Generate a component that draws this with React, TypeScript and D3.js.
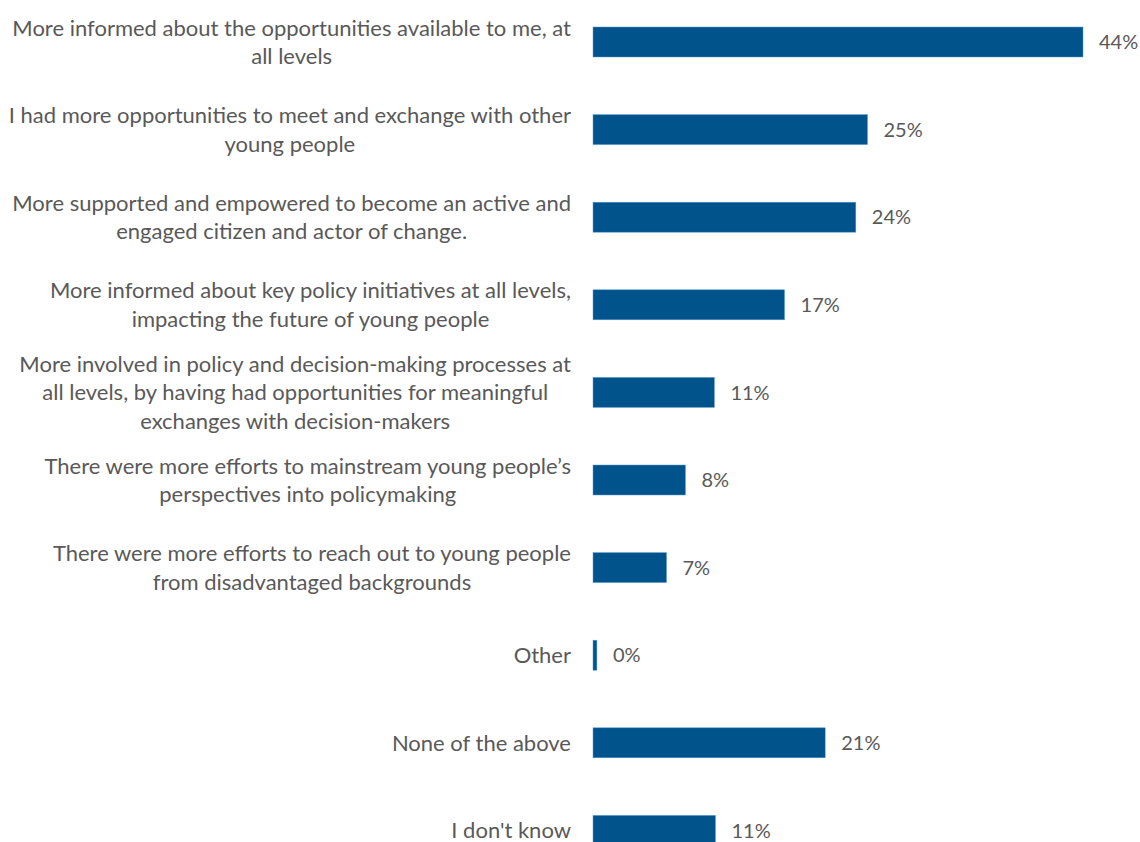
import React, { useEffect, useRef } from "react";
import * as d3 from "d3";

const categories: string[][] = [
  ["More informed about the opportunities available to me, at", "all levels"],
  ["I had more opportunities to meet and exchange with other", "young people"],
  ["More supported and empowered to become an active and", "engaged citizen and actor of change."],
  ["More informed about key policy initiatives at all levels,", "impacting the future of young people"],
  ["More involved in policy and decision-making processes at", "all levels, by having had opportunities for meaningful", "exchanges with decision-makers"],
  ["There were more efforts to mainstream young people\u2019s", "perspectives into policymaking"],
  ["There were more efforts to reach out to young people", "from disadvantaged backgrounds"],
  ["Other"],
  ["None of the above"],
  ["I don't know"],
];
const values: number[] = [44, 24.65, 23.6, 17.2, 10.9, 8.3, 6.6, 0.35, 20.85, 11.0];
const valueLabels: string[] = ["44%", "25%", "24%", "17%", "11%", "8%", "7%", "0%", "21%", "11%"];

const W = 1140;
const H = 842;
const FONT = "Lato, 'Open Sans', sans-serif";
const FS = 20;
const CAT_FS = 22;

export default function App() {
  const ref = useRef<SVGSVGElement | null>(null);
  useEffect(() => {
    const svg = d3.select(ref.current);
    svg.selectAll("*").remove();
    const step = 87.6;
    const ids = categories.map((_, i) => String(i));
    const y = d3
      .scaleBand<string>()
      .domain(ids)
      .range([42 - step / 2, 42 - step / 2 + step * ids.length])
      .paddingInner(1 - 30 / step)
      .paddingOuter((1 - 30 / step) / 2);
    const x = d3.scaleLinear().domain([0, 44]).range([593, 1083]);

    const g = svg.append("g");
    g.selectAll("rect")
      .data(values)
      .join("rect")
      .attr("x", x(0))
      .attr("y", (_, i) => y(ids[i])!)
      .attr("width", (d) => x(d) - x(0))
      .attr("height", y.bandwidth())
      .attr("fill", "#00548b")
      .attr("stroke", "#5b9bd5")
      .attr("stroke-width", 0.5);

    g.selectAll("text.val")
      .data(values)
      .join("text")
      .attr("class", "val")
      .attr("x", (d) => x(d) + 16)
      .attr("y", (_, i) => y(ids[i])! + y.bandwidth() / 2)
      .attr("dy", "0.36em")
      .attr("font-family", FONT)
      .attr("font-size", FS)
      .attr("fill", "#595959")
      .text((_, i) => valueLabels[i]);

    const lh = 28.5;
    categories.forEach((lines, i) => {
      const cy = y(ids[i])! + y.bandwidth() / 2;
      const tg = g.append("g");
      const texts = lines.map((ln, j) =>
        tg
          .append("text")
          .attr("y", cy + (j - (lines.length - 1) / 2) * lh)
          .attr("dy", "0.36em")
          .attr("text-anchor", "middle")
          .attr("font-family", FONT)
          .attr("font-size", CAT_FS)
          .attr("fill", "#595959")
          .text(ln)
      );
      const maxW = d3.max(texts, (t) => (t.node() as SVGTextElement).getComputedTextLength()) || 0;
      texts.forEach((t) => t.attr("x", 571 - maxW / 2));
    });
  }, []);
  return (
    <div style={{ position: "absolute", left: 0, top: 0 }}>
      <svg ref={ref} width={W} height={H} style={{ display: "block", background: "#fff" }} />
    </div>
  );
}
